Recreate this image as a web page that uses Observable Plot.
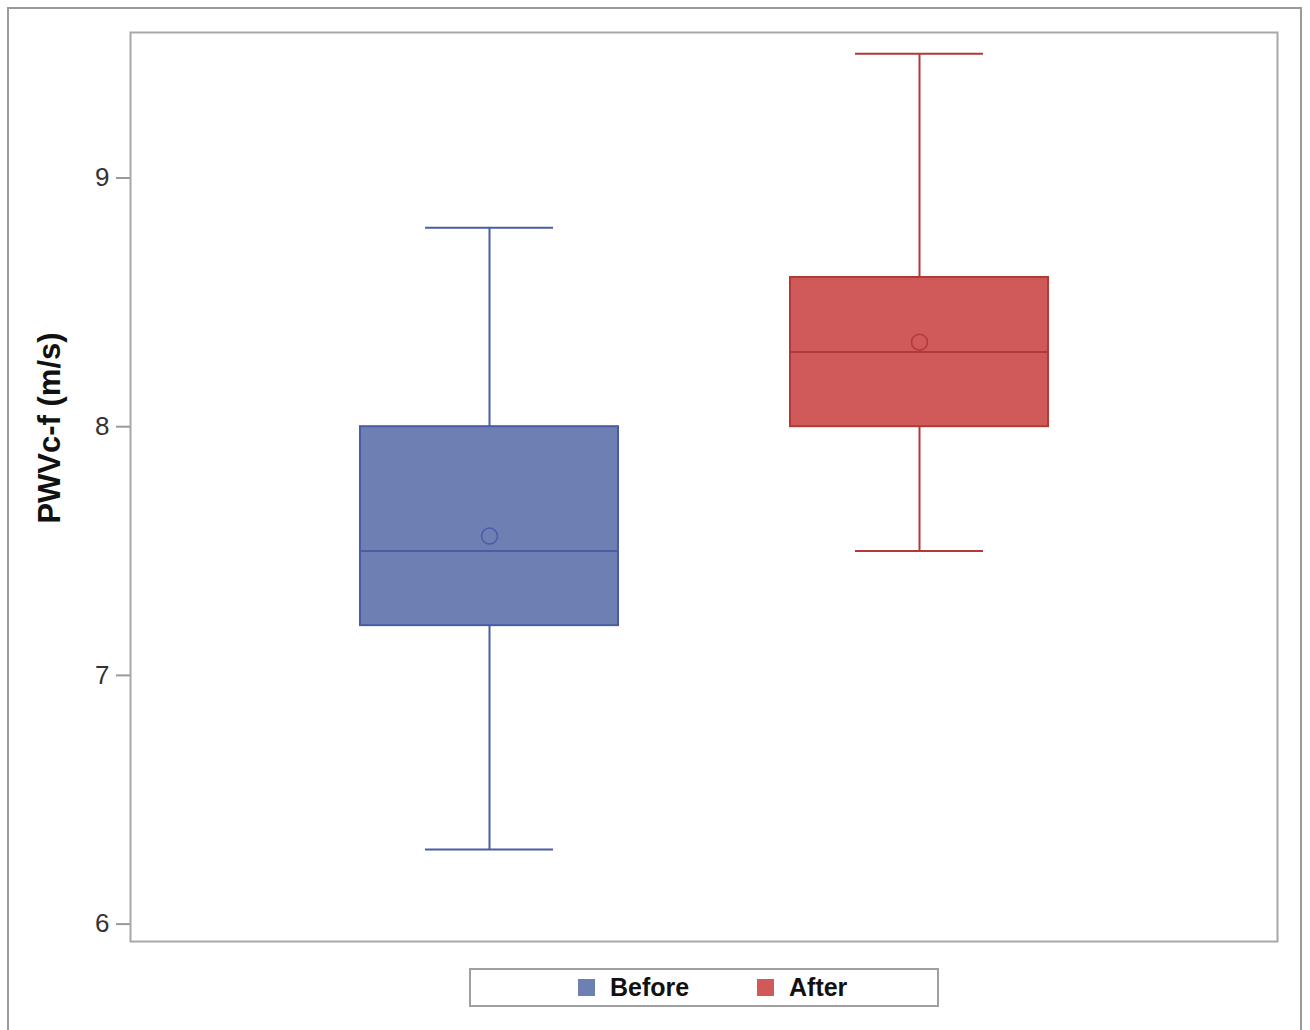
<!DOCTYPE html>
<html>
<head>
<meta charset="utf-8">
<script src="https://cdn.jsdelivr.net/npm/d3@7"></script>
<script src="https://cdn.jsdelivr.net/npm/@observablehq/plot@0.6"></script>
<style>
  html, body { margin: 0; padding: 0; background: #fff; overflow: hidden; }
  body { width: 1310px; height: 1030px; position: relative; font-family: "Liberation Sans", Arial, sans-serif; }
  #outer { position: absolute; left: 7px; top: 7px; width: 1295px; height: 1100px; border: 2px solid #9a9a9a; box-sizing: border-box; }
  #chart { position: absolute; left: 0; top: 0; }
  #ylabel { position: absolute; left: 50px; top: 428px; transform: translate(-50%, -50%) rotate(-90deg); font-weight: bold; font-size: 31px; color: #111; white-space: nowrap; }
  #legend { position: absolute; left: 469px; top: 968px; width: 470px; height: 39px; border: 2px solid #a0a0a0; box-sizing: border-box; }
  .item { position: absolute; top: 0; height: 35px; display: flex; align-items: center; font-weight: bold; font-size: 25px; color: #111; }
  .swatch { width: 17px; height: 17px; margin-right: 15px; }
</style>
</head>
<body>
<div id="outer"></div>
<div id="chart"></div>
<div id="ylabel">PWVc-f (m/s)</div>
<div id="legend"></div>
<script>
// Box-plot summary of carotid-femoral pulse wave velocity
const groups = ["Before", "After"];
const whiskerLow = [6.3, 7.5];
const q1 = [7.2, 8.0];
const median = [7.5, 8.3];
const q3 = [8.0, 8.6];
const whiskerHigh = [8.8, 9.5];
const mean = [7.56, 8.34];
const yTicks = [6, 7, 8, 9];
const fillColors = ["#6E7FB4", "#D05A59"];
const strokeColors = ["#4A5CA6", "#B03A36"];

const rows = groups.map((g, i) => ({
  group: g, lo: whiskerLow[i], q1: q1[i], median: median[i], q3: q3[i],
  hi: whiskerHigh[i], mean: mean[i], fill: fillColors[i], stroke: strokeColors[i]
}));

const chart = Plot.plot({
  width: 1310,
  height: 960,
  marginLeft: 130,
  marginRight: 33,
  marginTop: 32,
  marginBottom: 19,
  style: { fontFamily: "Liberation Sans, Arial, sans-serif", background: "transparent" },
  x: { type: "band", domain: groups, paddingInner: 0.4, paddingOuter: 0.533, axis: null },
  y: { domain: [5.93, 9.585] },
  color: { type: "identity" },
  marks: [
    Plot.axisY({ ticks: yTicks, tickFormat: "d", tickSize: 14, tickPadding: 7, fontSize: 26, stroke: "#999", fill: "#333", label: null, strokeWidth: 2 }),
    Plot.ruleX(rows, { x: "group", y1: "lo", y2: "hi", stroke: "stroke", strokeWidth: 2 }),
    Plot.tickY(rows, { x: "group", y: "lo", stroke: "stroke", strokeWidth: 2, insetLeft: 65, insetRight: 65 }),
    Plot.tickY(rows, { x: "group", y: "hi", stroke: "stroke", strokeWidth: 2, insetLeft: 65, insetRight: 65 }),
    Plot.barY(rows, { x: "group", y1: "q1", y2: "q3", fill: "fill", stroke: "stroke", strokeWidth: 2 }),
    Plot.tickY(rows, { x: "group", y: "median", stroke: "stroke", strokeWidth: 2 }),
    Plot.dot(rows, { x: "group", y: "mean", r: 8, fill: "none", stroke: "stroke", strokeWidth: 1.5 }),
    Plot.frame({ stroke: "#a8a8a8", strokeWidth: 2 })
  ]
});
document.getElementById("chart").appendChild(chart);

// Legend below the plot area
const legend = document.getElementById("legend");
const offsets = [107, 286];
groups.forEach((g, i) => {
  const item = document.createElement("div");
  item.className = "item";
  item.style.left = offsets[i] + "px";
  const sw = document.createElement("span");
  sw.className = "swatch";
  sw.style.background = fillColors[i];
  const label = document.createElement("span");
  label.textContent = g;
  item.appendChild(sw);
  item.appendChild(label);
  legend.appendChild(item);
});
</script>
</body>
</html>
